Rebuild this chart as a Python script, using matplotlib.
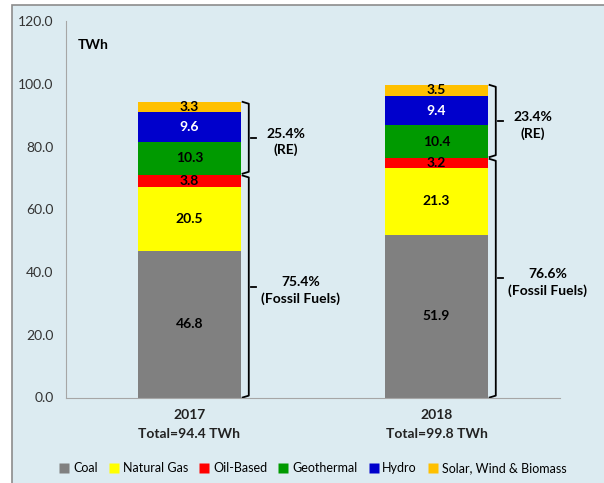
import matplotlib
matplotlib.use("Agg")
import matplotlib.pyplot as plt
from matplotlib.patches import Rectangle
from matplotlib.lines import Line2D
import numpy as np

plt.rcParams['font.family'] = ['Lato', 'DejaVu Sans']

years = ["2017", "2018"]
totals = ["94.4", "99.8"]
series = ["Coal", "Natural Gas", "Oil-Based", "Geothermal", "Hydro", "Solar, Wind & Biomass"]
coal = [46.8, 51.9]
natural_gas = [20.5, 21.3]
oil_based = [3.8, 3.2]
geothermal = [10.3, 10.4]
hydro = [9.6, 9.4]
solar_wind_biomass = [3.3, 3.5]
re_share = ["25.4%", "23.4%"]
fossil_share = ["75.4%", "76.6%"]

values = [coal, natural_gas, oil_based, geothermal, hydro, solar_wind_biomass]
colors = ["#808080", "#FFFF00", "#FF0000", "#009A00", "#0000CC", "#FFC000"]
label_colors = ["black", "black", "black", "black", "white", "black"]

fig = plt.figure(figsize=(6.04, 4.83), dpi=100)
fig.patch.set_facecolor("white")
bg = Rectangle((12/604, -0.01), 1.0, 1 - 5/483 + 0.01, transform=fig.transFigure,
               facecolor="#DCEBF1", edgecolor="#8C8C8C", linewidth=1.2, zorder=-10)
fig.patches.append(bg)

ax = fig.add_axes([66/604, 1 - 397.5/483, (560-66)/604, (397.5-21.3)/483])
ax.set_facecolor("none")
x = np.arange(len(years))
width = 0.42
bottom = np.zeros(len(years))
for vals, c, lc in zip(values, colors, label_colors):
    v = np.array(vals)
    ax.bar(x, v, width, bottom=bottom, color=c, edgecolor="none")
    for xi, b, vi in zip(x, bottom, v):
        ax.text(xi, b + vi/2, f"{vi:.1f}", ha="center", va="center",
                fontsize=10, fontweight="bold", color=lc)
    bottom = bottom + v

ax.set_xlim(-0.5, 1.5)
ax.set_ylim(0, 120)
ax.set_yticks(np.arange(0, 121, 20))
ax.set_yticklabels([f"{t:.1f}" for t in np.arange(0, 121, 20)], fontsize=10, color="#333333")
ax.set_xticks(x)
ax.set_xticklabels([f"{y}\nTotal={t} TWh" for y, t in zip(years, totals)],
                   fontsize=10, fontweight="bold", color="#222222", linespacing=1.75)
ax.tick_params(axis="both", length=0)
ax.tick_params(axis="x", pad=8)
ax.tick_params(axis="y", pad=9)
for s in ["top", "right"]:
    ax.spines[s].set_visible(False)
ax.spines["left"].set_color("#A6A6A6")
ax.spines["bottom"].set_color("#A6A6A6")

fig.text(78/604, 1 - 45/483, "TWh", fontsize=10, fontweight="bold", ha="left", va="center")

def brace(ax, xb, y0, y1):
    hook = 0.025
    tick = 0.03
    ax.plot([xb - hook, xb, xb, xb - hook], [y1, y1 - 0.6, y0 + 0.6, y0],
            color="black", lw=1.3, solid_joinstyle="round", clip_on=False)
    ym = (y0 + y1) / 2
    ax.plot([xb + 0.008, xb + tick], [ym, ym], color="black", lw=1.3, clip_on=False)

for i in range(len(years)):
    fossil_top = coal[i] + natural_gas[i] + oil_based[i]
    total = fossil_top + geothermal[i] + hydro[i] + solar_wind_biomass[i]
    xb = x[i] + width/2 + 0.03
    brace(ax, xb, fossil_top + 0.3, total)
    brace(ax, xb, 0, fossil_top - 0.3)
    ax.text(xb + 0.15, (fossil_top + total)/2 - 1.2, f"{re_share[i]}\n(RE)",
            ha="center", va="center", fontsize=10, fontweight="bold", linespacing=1.4)
    ax.text(xb + 0.21, fossil_top/2 - 1.5, f"{fossil_share[i]}\n(Fossil Fuels)",
            ha="center", va="center", fontsize=10, fontweight="bold", linespacing=1.4)

handles = [Line2D([0], [0], marker="s", linestyle="none", markersize=7,
                  markerfacecolor=c, markeredgecolor="none") for c in colors]
fig.legend(handles, series, loc="center", bbox_to_anchor=(0.517, 1 - 468/483),
           ncol=6, frameon=False, fontsize=9, handletextpad=0.2, columnspacing=0.8,
           handlelength=1.0)

fig.savefig("out.png", dpi=100, facecolor=fig.get_facecolor())
